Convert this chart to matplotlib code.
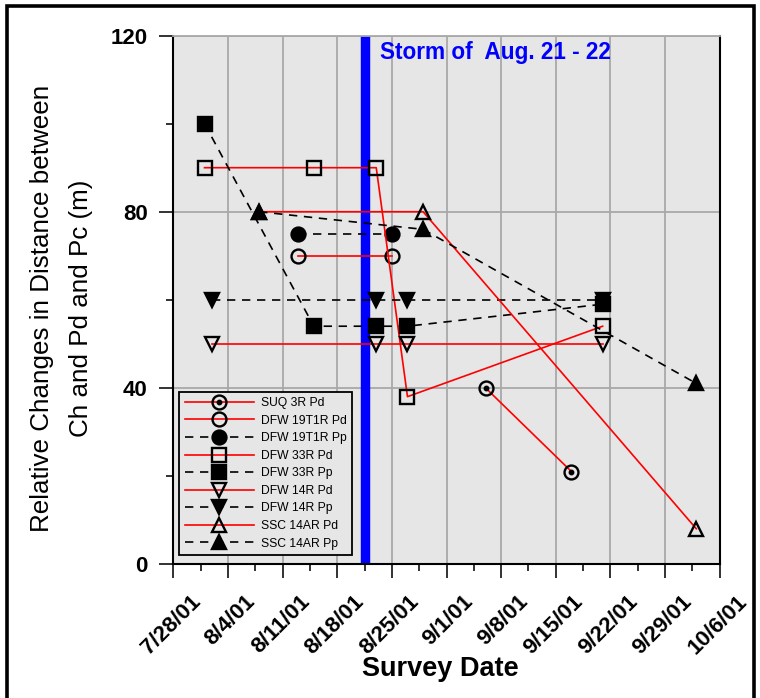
import datetime as dt
import matplotlib
matplotlib.use("Agg")
import matplotlib.pyplot as plt
from matplotlib.transforms import ScaledTranslation
from matplotlib.legend_handler import HandlerTuple
from matplotlib.patches import Rectangle

plt.rcParams['font.family'] = ['Liberation Sans', 'DejaVu Sans']

# ---- survey data -------------------------------------------------------
suq3r_pd_dates = ['2001-09-06', '2001-09-17']
suq3r_pd = [40, 21]

dfw19_dates = ['2001-08-13', '2001-08-25']
dfw19_pd = [70, 70]
dfw19_pp = [75, 75]

dfw33_dates = ['2001-08-01', '2001-08-15', '2001-08-23', '2001-08-27', '2001-09-21']
dfw33_pd = [90, 90, 90, 38, 54]
dfw33_pp = [100, 54, 54, 54, 59]

dfw14_dates = ['2001-08-02', '2001-08-23', '2001-08-27', '2001-09-21']
dfw14_pd = [50, 50, 50, 50]
dfw14_pp = [60, 60, 60, 60]

ssc14_dates = ['2001-08-08', '2001-08-29', '2001-10-03']
ssc14_pd = [80, 80, 8]
ssc14_pp = [80, 76, 41]

storm_date = '2001-08-21 12:00'
storm_label = 'Storm of  Aug. 21 - 22'

x_start, x_end = '2001-07-28', '2001-10-06'
y_ticks = [0, 40, 80, 120]


def to_dates(values):
    return [dt.datetime.fromisoformat(v) for v in values]


fig = plt.figure(figsize=(7.6, 6.98), dpi=100)
ax = fig.add_axes([0.228, 0.192, 0.719, 0.757])
ax.set_facecolor('#e6e6e6')

# weekly major ticks, half-week minor ticks
t0 = dt.datetime.fromisoformat(x_start)
t1 = dt.datetime.fromisoformat(x_end)
week_ticks = []
d = t0
while d <= t1:
    week_ticks.append(d)
    d += dt.timedelta(days=7)
week_labels = [f"{w.month}/{w.day}/{w:%y}" for w in week_ticks]
minor_ticks = [w + dt.timedelta(days=3.5) for w in week_ticks[:-1]]

ax.set_xlim(t0, t1)
ax.set_ylim(0, 120)
ax.set_xticks(week_ticks)
ax.set_xticklabels(week_labels)
ax.set_xticks(minor_ticks, minor=True)
ax.set_yticks(y_ticks)
ax.set_yticks([20, 60, 100], minor=True)

ax.grid(True, which='major', color='#a8a8a8', lw=1.3)
ax.set_axisbelow(True)

# storm marker
ax.axvline(dt.datetime.fromisoformat(storm_date), color='#0000ff', lw=6.8, zorder=1.5)

red = dict(color='#ff0000', lw=1.2, ls='-')
blk = dict(color='black', lw=1.2, ls=(0, (5, 4)))
mk = dict(ms=10, mew=1.7, mec='black')

x = to_dates(suq3r_pd_dates)
h_suq, = ax.plot(x, suq3r_pd, marker='o', mfc='none', **mk, **red)
h_suq_dot, = ax.plot(x, suq3r_pd, ls='none', marker='o', ms=3.2, mfc='black', mec='black')

x = to_dates(dfw19_dates)
h_19pd, = ax.plot(x, dfw19_pd, marker='o', mfc='none', **mk, **red)
h_19pp, = ax.plot(x, dfw19_pp, marker='o', mfc='black', **mk, **blk)

x = to_dates(dfw33_dates)
h_33pd, = ax.plot(x, dfw33_pd, marker='s', mfc='none', **mk, **red)
h_33pp, = ax.plot(x, dfw33_pp, marker='s', mfc='black', **mk, **blk)

x = to_dates(dfw14_dates)
h_14pd, = ax.plot(x, dfw14_pd, marker='v', mfc='none', **mk, **red)
h_14pp, = ax.plot(x, dfw14_pp, marker='v', mfc='black', **mk, **blk)

x = to_dates(ssc14_dates)
h_sscpd, = ax.plot(x, ssc14_pd, marker='^', mfc='none', **mk, **red)
h_sscpp, = ax.plot(x, ssc14_pp, marker='^', mfc='black', **mk, **blk)

handles = [(h_suq, h_suq_dot), h_19pd, h_19pp, h_33pd, h_33pp,
           h_14pd, h_14pp, h_sscpd, h_sscpp]
labels = ['SUQ 3R Pd', 'DFW 19T1R Pd', 'DFW 19T1R Pp', 'DFW 33R Pd', 'DFW 33R Pp',
          'DFW 14R Pd', 'DFW 14R Pp', 'SSC 14AR Pd', 'SSC 14AR Pp']
leg = ax.legend(handles, labels, handler_map={tuple: HandlerTuple(ndivide=1)},
                loc='lower left', bbox_to_anchor=(0.011, 0.017), borderaxespad=0,
                fontsize=8.7, handlelength=5.7, handletextpad=0.6,
                labelspacing=0.46, borderpad=0.45, fancybox=False,
                facecolor='#e6e6e6', edgecolor='black', framealpha=1)
leg.get_frame().set_linewidth(1.3)
leg.set_zorder(5)

# spines and ticks
for s in ['left', 'bottom', 'right']:
    ax.spines[s].set_color('black')
    ax.spines[s].set_linewidth(1.5)
ax.spines['top'].set_color('#a8a8a8')
ax.spines['top'].set_linewidth(1.3)

ax.tick_params(axis='both', which='major', direction='out', length=10, width=1.3,
               color='#222222')
ax.tick_params(axis='both', which='minor', direction='out', length=5, width=1.3,
               color='#222222')
ax.tick_params(axis='y', which='major', pad=8.5, labelsize=16)
ax.tick_params(axis='x', which='major', pad=15, labelsize=16)
for lab in ax.get_yticklabels():
    lab.set_fontweight('bold')
offset = ScaledTranslation(0.24, 0.0, fig.dpi_scale_trans)
for lab in ax.get_xticklabels():
    lab.set_fontweight('bold')
    lab.set_rotation(45)
    lab.set_ha('right')
    lab.set_va('center')
    lab.set_rotation_mode('anchor')
    lab.set_transform(lab.get_transform() + offset)

fig.text(0.58, 1 - 669 / 698, 'Survey Date', ha='center', va='center',
         fontsize=19.5, fontweight='bold')
fig.text(61.5 / 760, 1 - 308 / 698,
         'Relative Changes in Distance between\nCh and Pd and Pc (m)',
         rotation=90, ha='center', va='center', multialignment='center',
         fontsize=18.7, linespacing=1.75)
fig.text(380 / 760, 1 - 52 / 698, storm_label, ha='left', va='center',
         fontsize=16.3, fontweight='bold', color='#0000ff')

# outer frame
fig.patches.append(Rectangle((7 / 760, -0.02), (754 - 7) / 760, 1.02 - 5.5 / 698,
                             transform=fig.transFigure, fill=False,
                             edgecolor='black', lw=2.6))

fig.savefig('out.png', dpi=100)
